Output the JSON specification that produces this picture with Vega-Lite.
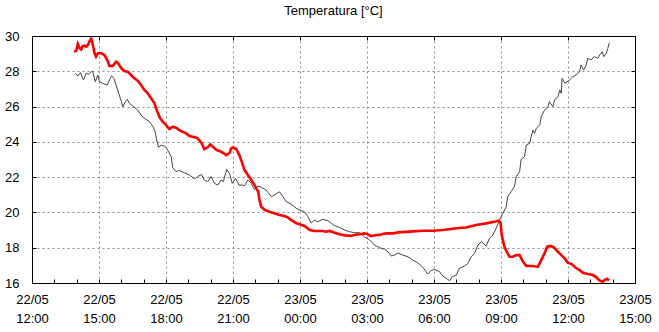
{
  "$schema": "https://vega.github.io/schema/vega-lite/v6.json",
  "width": 603,
  "height": 247,
  "autosize": "none",
  "padding": {"left": 32, "top": 36, "right": 24, "bottom": 49},
  "background": "white",
  "title": {"text": "Temperatura [°C]", "font": "Liberation Sans", "fontSize": 13, "fontWeight": "normal", "color": "black", "anchor": "middle", "offset": 12},
  "config": {
    "view": {"stroke": "black", "strokeWidth": 1},
    "axis": {"labelFont": "Liberation Sans", "labelFontSize": 13, "labelColor": "black", "domainColor": "black", "tickColor": "black", "gridColor": "#8c8c8c", "gridDash": [2, 3], "gridWidth": 1, "title": null}
  },
  "datasets": {
    "rosso": [
      {"t": "2024-05-22T13:53:00Z", "v": 29.11}, {"t": "2024-05-22T13:59:00Z", "v": 29.17}, {"t": "2024-05-22T14:03:00Z", "v": 29.55}, {"t": "2024-05-22T14:08:00Z", "v": 29.30},
      {"t": "2024-05-22T14:12:00Z", "v": 29.24}, {"t": "2024-05-22T14:16:00Z", "v": 29.43}, {"t": "2024-05-22T14:21:00Z", "v": 29.45}, {"t": "2024-05-22T14:26:00Z", "v": 29.40},
      {"t": "2024-05-22T14:30:00Z", "v": 29.49}, {"t": "2024-05-22T14:34:00Z", "v": 29.68}, {"t": "2024-05-22T14:39:00Z", "v": 29.85}, {"t": "2024-05-22T14:43:00Z", "v": 29.55},
      {"t": "2024-05-22T14:48:00Z", "v": 29.02}, {"t": "2024-05-22T14:52:00Z", "v": 28.83}, {"t": "2024-05-22T14:57:00Z", "v": 29.02}, {"t": "2024-05-22T15:06:00Z", "v": 29.02},
      {"t": "2024-05-22T15:15:00Z", "v": 28.92}, {"t": "2024-05-22T15:24:00Z", "v": 28.54}, {"t": "2024-05-22T15:28:00Z", "v": 28.30}, {"t": "2024-05-22T15:37:00Z", "v": 28.30},
      {"t": "2024-05-22T15:46:00Z", "v": 28.54}, {"t": "2024-05-22T15:50:00Z", "v": 28.49}, {"t": "2024-05-22T16:00:00Z", "v": 28.17}, {"t": "2024-05-22T16:08:00Z", "v": 28.02},
      {"t": "2024-05-22T16:17:00Z", "v": 27.98}, {"t": "2024-05-22T16:26:00Z", "v": 27.79}, {"t": "2024-05-22T16:35:00Z", "v": 27.60}, {"t": "2024-05-22T16:44:00Z", "v": 27.47},
      {"t": "2024-05-22T16:53:00Z", "v": 27.22}, {"t": "2024-05-22T17:02:00Z", "v": 26.94}, {"t": "2024-05-22T17:11:00Z", "v": 26.75}, {"t": "2024-05-22T17:20:00Z", "v": 26.47},
      {"t": "2024-05-22T17:29:00Z", "v": 26.18}, {"t": "2024-05-22T17:35:00Z", "v": 25.80}, {"t": "2024-05-22T17:43:00Z", "v": 25.39}, {"t": "2024-05-22T17:51:00Z", "v": 25.14},
      {"t": "2024-05-22T18:00:00Z", "v": 24.95}, {"t": "2024-05-22T18:09:00Z", "v": 24.73}, {"t": "2024-05-22T18:18:00Z", "v": 24.86}, {"t": "2024-05-22T18:27:00Z", "v": 24.80},
      {"t": "2024-05-22T18:36:00Z", "v": 24.67}, {"t": "2024-05-22T18:45:00Z", "v": 24.57}, {"t": "2024-05-22T18:54:00Z", "v": 24.48}, {"t": "2024-05-22T19:03:00Z", "v": 24.33},
      {"t": "2024-05-22T19:17:00Z", "v": 24.26}, {"t": "2024-05-22T19:25:00Z", "v": 24.20}, {"t": "2024-05-22T19:35:00Z", "v": 23.95}, {"t": "2024-05-22T19:43:00Z", "v": 23.58},
      {"t": "2024-05-22T19:52:00Z", "v": 23.69}, {"t": "2024-05-22T19:59:00Z", "v": 23.86}, {"t": "2024-05-22T20:06:00Z", "v": 23.72}, {"t": "2024-05-22T20:15:00Z", "v": 23.54},
      {"t": "2024-05-22T20:24:00Z", "v": 23.48}, {"t": "2024-05-22T20:33:00Z", "v": 23.38}, {"t": "2024-05-22T20:42:00Z", "v": 23.25}, {"t": "2024-05-22T20:51:00Z", "v": 23.38},
      {"t": "2024-05-22T20:55:00Z", "v": 23.63}, {"t": "2024-05-22T21:00:00Z", "v": 23.69}, {"t": "2024-05-22T21:09:00Z", "v": 23.58}, {"t": "2024-05-22T21:17:00Z", "v": 23.25},
      {"t": "2024-05-22T21:25:00Z", "v": 22.78}, {"t": "2024-05-22T21:31:00Z", "v": 22.40}, {"t": "2024-05-22T21:40:00Z", "v": 22.12}, {"t": "2024-05-22T21:49:00Z", "v": 21.84},
      {"t": "2024-05-22T21:58:00Z", "v": 21.55}, {"t": "2024-05-22T22:04:00Z", "v": 21.31}, {"t": "2024-05-22T22:08:00Z", "v": 21.17}, {"t": "2024-05-22T22:11:00Z", "v": 20.70},
      {"t": "2024-05-22T22:16:00Z", "v": 20.32}, {"t": "2024-05-22T22:25:00Z", "v": 20.14}, {"t": "2024-05-22T22:38:00Z", "v": 20.04}, {"t": "2024-05-22T22:51:00Z", "v": 19.95},
      {"t": "2024-05-22T23:05:00Z", "v": 19.85}, {"t": "2024-05-22T23:18:00Z", "v": 19.80}, {"t": "2024-05-22T23:27:00Z", "v": 19.72}, {"t": "2024-05-22T23:36:00Z", "v": 19.58},
      {"t": "2024-05-22T23:50:00Z", "v": 19.38}, {"t": "2024-05-22T23:59:00Z", "v": 19.33}, {"t": "2024-05-23T00:12:00Z", "v": 19.23}, {"t": "2024-05-23T00:26:00Z", "v": 19.00},
      {"t": "2024-05-23T00:39:00Z", "v": 18.95}, {"t": "2024-05-23T01:01:00Z", "v": 18.95}, {"t": "2024-05-23T01:10:00Z", "v": 18.91}, {"t": "2024-05-23T01:19:00Z", "v": 18.95},
      {"t": "2024-05-23T01:33:00Z", "v": 18.85}, {"t": "2024-05-23T01:46:00Z", "v": 18.76}, {"t": "2024-05-23T02:00:00Z", "v": 18.70}, {"t": "2024-05-23T02:18:00Z", "v": 18.68},
      {"t": "2024-05-23T02:26:00Z", "v": 18.72}, {"t": "2024-05-23T02:40:00Z", "v": 18.76}, {"t": "2024-05-23T02:53:00Z", "v": 18.81}, {"t": "2024-05-23T03:02:00Z", "v": 18.76},
      {"t": "2024-05-23T03:11:00Z", "v": 18.66}, {"t": "2024-05-23T03:25:00Z", "v": 18.72}, {"t": "2024-05-23T03:34:00Z", "v": 18.72}, {"t": "2024-05-23T03:42:00Z", "v": 18.78},
      {"t": "2024-05-23T03:52:00Z", "v": 18.81}, {"t": "2024-05-23T04:09:00Z", "v": 18.81}, {"t": "2024-05-23T04:23:00Z", "v": 18.87}, {"t": "2024-05-23T04:54:00Z", "v": 18.91},
      {"t": "2024-05-23T05:30:00Z", "v": 18.96}, {"t": "2024-05-23T05:57:00Z", "v": 18.96}, {"t": "2024-05-23T06:24:00Z", "v": 19.00}, {"t": "2024-05-23T07:00:00Z", "v": 19.10},
      {"t": "2024-05-23T07:26:00Z", "v": 19.15}, {"t": "2024-05-23T07:53:00Z", "v": 19.29}, {"t": "2024-05-23T08:20:00Z", "v": 19.38}, {"t": "2024-05-23T08:42:00Z", "v": 19.47},
      {"t": "2024-05-23T08:54:00Z", "v": 19.53}, {"t": "2024-05-23T08:59:00Z", "v": 19.40}, {"t": "2024-05-23T09:02:00Z", "v": 18.70}, {"t": "2024-05-23T09:09:00Z", "v": 18.06},
      {"t": "2024-05-23T09:17:00Z", "v": 17.70}, {"t": "2024-05-23T09:23:00Z", "v": 17.49}, {"t": "2024-05-23T09:32:00Z", "v": 17.49}, {"t": "2024-05-23T09:41:00Z", "v": 17.58},
      {"t": "2024-05-23T09:50:00Z", "v": 17.58}, {"t": "2024-05-23T09:59:00Z", "v": 17.21}, {"t": "2024-05-23T10:08:00Z", "v": 16.96}, {"t": "2024-05-23T10:17:00Z", "v": 16.96},
      {"t": "2024-05-23T10:26:00Z", "v": 16.96}, {"t": "2024-05-23T10:39:00Z", "v": 16.92}, {"t": "2024-05-23T10:48:00Z", "v": 17.30}, {"t": "2024-05-23T10:57:00Z", "v": 17.68},
      {"t": "2024-05-23T11:04:00Z", "v": 18.06}, {"t": "2024-05-23T11:13:00Z", "v": 18.10}, {"t": "2024-05-23T11:22:00Z", "v": 18.02}, {"t": "2024-05-23T11:33:00Z", "v": 17.77},
      {"t": "2024-05-23T11:42:00Z", "v": 17.58}, {"t": "2024-05-23T11:51:00Z", "v": 17.40}, {"t": "2024-05-23T11:59:00Z", "v": 17.15}, {"t": "2024-05-23T12:10:00Z", "v": 17.07},
      {"t": "2024-05-23T12:19:00Z", "v": 16.89}, {"t": "2024-05-23T12:31:00Z", "v": 16.73}, {"t": "2024-05-23T12:40:00Z", "v": 16.58}, {"t": "2024-05-23T12:53:00Z", "v": 16.51},
      {"t": "2024-05-23T13:07:00Z", "v": 16.45}, {"t": "2024-05-23T13:16:00Z", "v": 16.32}, {"t": "2024-05-23T13:25:00Z", "v": 16.13}, {"t": "2024-05-23T13:34:00Z", "v": 16.07},
      {"t": "2024-05-23T13:38:00Z", "v": 16.17}, {"t": "2024-05-23T13:45:00Z", "v": 16.24}, {"t": "2024-05-23T13:50:00Z", "v": 16.13}
    ],
    "nero": [
      {"t": "2024-05-22T13:57:00Z", "v": 27.89}, {"t": "2024-05-22T14:03:00Z", "v": 27.73}, {"t": "2024-05-22T14:10:00Z", "v": 27.92}, {"t": "2024-05-22T14:18:00Z", "v": 27.51},
      {"t": "2024-05-22T14:26:00Z", "v": 27.89}, {"t": "2024-05-22T14:32:00Z", "v": 27.83}, {"t": "2024-05-22T14:39:00Z", "v": 27.98}, {"t": "2024-05-22T14:43:00Z", "v": 27.98},
      {"t": "2024-05-22T14:50:00Z", "v": 27.41}, {"t": "2024-05-22T14:57:00Z", "v": 27.79}, {"t": "2024-05-22T15:01:00Z", "v": 27.41}, {"t": "2024-05-22T15:10:00Z", "v": 27.32},
      {"t": "2024-05-22T15:22:00Z", "v": 27.22}, {"t": "2024-05-22T15:28:00Z", "v": 27.51}, {"t": "2024-05-22T15:34:00Z", "v": 27.75}, {"t": "2024-05-22T15:40:00Z", "v": 27.60},
      {"t": "2024-05-22T15:46:00Z", "v": 27.22}, {"t": "2024-05-22T15:53:00Z", "v": 26.75}, {"t": "2024-05-22T16:00:00Z", "v": 26.28}, {"t": "2024-05-22T16:04:00Z", "v": 25.99},
      {"t": "2024-05-22T16:11:00Z", "v": 26.28}, {"t": "2024-05-22T16:16:00Z", "v": 26.41}, {"t": "2024-05-22T16:22:00Z", "v": 26.18}, {"t": "2024-05-22T16:31:00Z", "v": 26.03},
      {"t": "2024-05-22T16:44:00Z", "v": 25.80}, {"t": "2024-05-22T16:53:00Z", "v": 25.52}, {"t": "2024-05-22T17:02:00Z", "v": 25.33}, {"t": "2024-05-22T17:16:00Z", "v": 25.14},
      {"t": "2024-05-22T17:25:00Z", "v": 24.86}, {"t": "2024-05-22T17:31:00Z", "v": 24.57}, {"t": "2024-05-22T17:35:00Z", "v": 24.10}, {"t": "2024-05-22T17:40:00Z", "v": 23.69},
      {"t": "2024-05-22T17:47:00Z", "v": 23.82}, {"t": "2024-05-22T17:56:00Z", "v": 23.76}, {"t": "2024-05-22T18:02:00Z", "v": 23.63}, {"t": "2024-05-22T18:14:00Z", "v": 23.16},
      {"t": "2024-05-22T18:18:00Z", "v": 22.55}, {"t": "2024-05-22T18:27:00Z", "v": 22.31}, {"t": "2024-05-22T18:36:00Z", "v": 22.38}, {"t": "2024-05-22T18:50:00Z", "v": 22.24},
      {"t": "2024-05-22T19:03:00Z", "v": 22.12}, {"t": "2024-05-22T19:17:00Z", "v": 21.90}, {"t": "2024-05-22T19:25:00Z", "v": 22.03}, {"t": "2024-05-22T19:35:00Z", "v": 22.15},
      {"t": "2024-05-22T19:43:00Z", "v": 21.84}, {"t": "2024-05-22T19:52:00Z", "v": 21.74}, {"t": "2024-05-22T20:01:00Z", "v": 22.03}, {"t": "2024-05-22T20:10:00Z", "v": 21.65},
      {"t": "2024-05-22T20:19:00Z", "v": 21.55}, {"t": "2024-05-22T20:28:00Z", "v": 21.84}, {"t": "2024-05-22T20:34:00Z", "v": 21.74}, {"t": "2024-05-22T20:43:00Z", "v": 22.44},
      {"t": "2024-05-22T20:51:00Z", "v": 22.18}, {"t": "2024-05-22T20:58:00Z", "v": 21.65}, {"t": "2024-05-22T21:07:00Z", "v": 21.93}, {"t": "2024-05-22T21:16:00Z", "v": 21.55},
      {"t": "2024-05-22T21:26:00Z", "v": 21.55}, {"t": "2024-05-22T21:31:00Z", "v": 21.51}, {"t": "2024-05-22T21:40:00Z", "v": 21.84}, {"t": "2024-05-22T21:49:00Z", "v": 21.65},
      {"t": "2024-05-22T21:53:00Z", "v": 21.46}, {"t": "2024-05-22T21:58:00Z", "v": 21.30}, {"t": "2024-05-22T22:07:00Z", "v": 21.50}, {"t": "2024-05-22T22:16:00Z", "v": 21.42},
      {"t": "2024-05-22T22:29:00Z", "v": 21.27}, {"t": "2024-05-22T22:43:00Z", "v": 20.89}, {"t": "2024-05-22T22:56:00Z", "v": 21.05}, {"t": "2024-05-22T23:05:00Z", "v": 21.17},
      {"t": "2024-05-22T23:14:00Z", "v": 20.90}, {"t": "2024-05-22T23:23:00Z", "v": 20.61}, {"t": "2024-05-22T23:36:00Z", "v": 20.48}, {"t": "2024-05-22T23:50:00Z", "v": 20.23},
      {"t": "2024-05-23T00:03:00Z", "v": 20.10}, {"t": "2024-05-23T00:12:00Z", "v": 20.04}, {"t": "2024-05-23T00:21:00Z", "v": 19.76}, {"t": "2024-05-23T00:30:00Z", "v": 19.40},
      {"t": "2024-05-23T00:39:00Z", "v": 19.57}, {"t": "2024-05-23T00:48:00Z", "v": 19.47}, {"t": "2024-05-23T01:01:00Z", "v": 19.61}, {"t": "2024-05-23T01:15:00Z", "v": 19.53},
      {"t": "2024-05-23T01:24:00Z", "v": 19.38}, {"t": "2024-05-23T01:33:00Z", "v": 19.25}, {"t": "2024-05-23T01:46:00Z", "v": 19.15}, {"t": "2024-05-23T02:00:00Z", "v": 19.00},
      {"t": "2024-05-23T02:13:00Z", "v": 18.91}, {"t": "2024-05-23T02:26:00Z", "v": 18.85}, {"t": "2024-05-23T02:40:00Z", "v": 18.85}, {"t": "2024-05-23T02:53:00Z", "v": 18.62},
      {"t": "2024-05-23T03:07:00Z", "v": 18.44}, {"t": "2024-05-23T03:20:00Z", "v": 18.15}, {"t": "2024-05-23T03:34:00Z", "v": 18.00}, {"t": "2024-05-23T03:47:00Z", "v": 17.91},
      {"t": "2024-05-23T03:56:00Z", "v": 17.77}, {"t": "2024-05-23T04:05:00Z", "v": 17.53}, {"t": "2024-05-23T04:14:00Z", "v": 17.58}, {"t": "2024-05-23T04:23:00Z", "v": 17.70},
      {"t": "2024-05-23T04:36:00Z", "v": 17.58}, {"t": "2024-05-23T04:50:00Z", "v": 17.49}, {"t": "2024-05-23T05:03:00Z", "v": 17.30}, {"t": "2024-05-23T05:16:00Z", "v": 17.15},
      {"t": "2024-05-23T05:30:00Z", "v": 16.89}, {"t": "2024-05-23T05:43:00Z", "v": 16.51}, {"t": "2024-05-23T05:52:00Z", "v": 16.70}, {"t": "2024-05-23T06:01:00Z", "v": 16.77},
      {"t": "2024-05-23T06:15:00Z", "v": 16.64}, {"t": "2024-05-23T06:24:00Z", "v": 16.39}, {"t": "2024-05-23T06:33:00Z", "v": 16.26}, {"t": "2024-05-23T06:42:00Z", "v": 16.13},
      {"t": "2024-05-23T06:50:00Z", "v": 16.36}, {"t": "2024-05-23T07:00:00Z", "v": 16.45}, {"t": "2024-05-23T07:08:00Z", "v": 16.83}, {"t": "2024-05-23T07:22:00Z", "v": 16.96},
      {"t": "2024-05-23T07:31:00Z", "v": 17.11}, {"t": "2024-05-23T07:40:00Z", "v": 17.49}, {"t": "2024-05-23T07:49:00Z", "v": 17.68}, {"t": "2024-05-23T07:58:00Z", "v": 18.15},
      {"t": "2024-05-23T08:07:00Z", "v": 18.34}, {"t": "2024-05-23T08:20:00Z", "v": 18.10}, {"t": "2024-05-23T08:29:00Z", "v": 18.53}, {"t": "2024-05-23T08:38:00Z", "v": 18.72},
      {"t": "2024-05-23T08:47:00Z", "v": 19.10}, {"t": "2024-05-23T08:56:00Z", "v": 19.57}, {"t": "2024-05-23T09:05:00Z", "v": 19.95}, {"t": "2024-05-23T09:14:00Z", "v": 20.32},
      {"t": "2024-05-23T09:18:00Z", "v": 20.89}, {"t": "2024-05-23T09:27:00Z", "v": 21.17}, {"t": "2024-05-23T09:36:00Z", "v": 21.46}, {"t": "2024-05-23T09:41:00Z", "v": 22.03},
      {"t": "2024-05-23T09:50:00Z", "v": 22.31}, {"t": "2024-05-23T09:54:00Z", "v": 23.00}, {"t": "2024-05-23T10:03:00Z", "v": 23.16}, {"t": "2024-05-23T10:08:00Z", "v": 23.82},
      {"t": "2024-05-23T10:17:00Z", "v": 23.92}, {"t": "2024-05-23T10:21:00Z", "v": 24.29}, {"t": "2024-05-23T10:26:00Z", "v": 24.67}, {"t": "2024-05-23T10:30:00Z", "v": 24.48},
      {"t": "2024-05-23T10:35:00Z", "v": 24.77}, {"t": "2024-05-23T10:44:00Z", "v": 24.95}, {"t": "2024-05-23T10:48:00Z", "v": 25.43}, {"t": "2024-05-23T10:57:00Z", "v": 25.80},
      {"t": "2024-05-23T11:06:00Z", "v": 25.99}, {"t": "2024-05-23T11:10:00Z", "v": 26.28}, {"t": "2024-05-23T11:19:00Z", "v": 25.99}, {"t": "2024-05-23T11:24:00Z", "v": 26.37},
      {"t": "2024-05-23T11:33:00Z", "v": 26.56}, {"t": "2024-05-23T11:38:00Z", "v": 26.94}, {"t": "2024-05-23T11:42:00Z", "v": 26.75}, {"t": "2024-05-23T11:44:00Z", "v": 27.60},
      {"t": "2024-05-23T11:52:00Z", "v": 27.32}, {"t": "2024-05-23T12:04:00Z", "v": 27.51}, {"t": "2024-05-23T12:13:00Z", "v": 27.69}, {"t": "2024-05-23T12:22:00Z", "v": 27.79},
      {"t": "2024-05-23T12:31:00Z", "v": 27.98}, {"t": "2024-05-23T12:35:00Z", "v": 28.36}, {"t": "2024-05-23T12:42:00Z", "v": 28.07}, {"t": "2024-05-23T12:49:00Z", "v": 28.36},
      {"t": "2024-05-23T12:53:00Z", "v": 28.74}, {"t": "2024-05-23T13:02:00Z", "v": 28.64}, {"t": "2024-05-23T13:11:00Z", "v": 28.83}, {"t": "2024-05-23T13:20:00Z", "v": 28.74},
      {"t": "2024-05-23T13:27:00Z", "v": 28.98}, {"t": "2024-05-23T13:32:00Z", "v": 29.11}, {"t": "2024-05-23T13:36:00Z", "v": 28.83}, {"t": "2024-05-23T13:43:00Z", "v": 29.02},
      {"t": "2024-05-23T13:47:00Z", "v": 29.30}, {"t": "2024-05-23T13:51:00Z", "v": 29.62}
    ]
  },
  "layer": [
    {
      "data": {"name": "nero"},
      "mark": {"type": "line", "color": "#444444", "strokeWidth": 1},
      "encoding": {
        "x": {
          "field": "t", "type": "temporal",
          "scale": {"type": "utc", "domain": [1716379200000, 1716476400000], "nice": false},
          "axis": {
            "orient": "bottom",
            "values": [1716379200000, 1716382800000, 1716386400000, 1716390000000, 1716393600000, 1716397200000, 1716400800000, 1716404400000, 1716408000000, 1716411600000, 1716415200000, 1716418800000, 1716422400000, 1716426000000, 1716429600000, 1716433200000, 1716436800000, 1716440400000, 1716444000000, 1716447600000, 1716451200000, 1716454800000, 1716458400000, 1716462000000, 1716465600000, 1716469200000, 1716472800000, 1716476400000],
            "tickSize": -4,
            "labelPadding": 14,
            "labelFlush": false,
            "labelOverlap": false,
            "labelLineHeight": 19,
            "labelBaseline": "top",
            "labelExpr": "utchours(datum.value) % 3 == 0 ? [utcFormat(datum.value, '%d/%m'), utcFormat(datum.value, '%H:%M')] : ''",
            "grid": false
          }
        },
        "y": {
          "field": "v", "type": "quantitative",
          "scale": {"domain": [16, 30], "nice": false, "zero": false},
          "axis": {"orient": "left", "values": [16, 18, 20, 22, 24, 26, 28, 30], "tickSize": -4, "labelPadding": 17, "grid": true}
        }
      }
    },
    {
      "data": {"name": "rosso"},
      "mark": {"type": "line", "color": "#ff0000", "strokeWidth": 2.6},
      "encoding": {
        "x": {
          "field": "t", "type": "temporal",
          "axis": {"orient": "top", "values": [1716379200000, 1716390000000, 1716400800000, 1716411600000, 1716422400000, 1716433200000, 1716444000000, 1716454800000, 1716465600000, 1716476400000], "tickSize": -4, "labels": false, "grid": true}
        },
        "y": {
          "field": "v", "type": "quantitative",
          "axis": {"orient": "right", "values": [16, 18, 20, 22, 24, 26, 28, 30], "tickSize": -4, "labels": false, "grid": false}
        }
      }
    }
  ],
  "resolve": {"axis": {"x": "independent", "y": "independent"}}
}
